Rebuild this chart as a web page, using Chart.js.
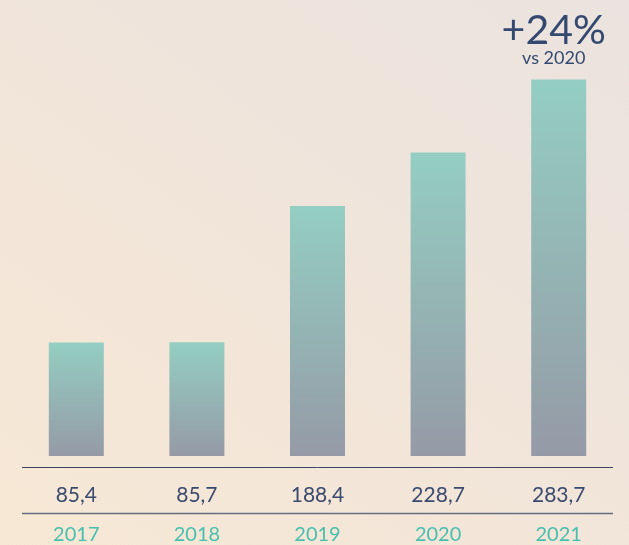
<!DOCTYPE html>
<html>
<head>
<meta charset="utf-8">
<script src="https://cdn.jsdelivr.net/npm/chart.js@4.4.1/dist/chart.umd.min.js"></script>
<style>
  html, body { margin: 0; padding: 0; overflow: hidden; }
  body {
    width: 629px; height: 545px;
    background: linear-gradient(35deg, #f7e8d5 0%, #f1e5da 50%, #ebe3df 100%);
  }
  #wrap { position: relative; width: 629px; height: 545px; }
</style>
</head>
<body>
<div id="wrap"><canvas id="chart"></canvas></div>
<script>
// Yearly totals
const years = ['2017', '2018', '2019', '2020', '2021'];
const totals = [85.4, 85.7, 188.4, 228.7, 283.7];

const fmt = v => v.toFixed(1).replace('.', ',');
const growth = Math.round((totals[totals.length - 1] / totals[totals.length - 2] - 1) * 100);

const NAVY = '#3a4a6e';
const TEAL = '#48bfae';

// Vertical teal-to-grey fill for each bar
function barFill(ctx) {
  const chart = ctx.chart;
  const y = chart.scales.y;
  if (!chart.chartArea || !y || ctx.dataIndex === undefined) return '#93c6be';
  const top = y.getPixelForValue(totals[ctx.dataIndex]);
  const bottom = y.getPixelForValue(0);
  const g = chart.ctx.createLinearGradient(0, top, 0, bottom);
  g.addColorStop(0, '#94cec2');
  g.addColorStop(1, '#959aa6');
  return g;
}

// Rules above and below the value row
const rules = {
  id: 'rules',
  afterDraw(chart) {
    const c = chart.ctx;
    const { left, right } = chart.chartArea;
    const x = chart.scales.x, x2 = chart.scales.x2;
    c.save();
    c.strokeStyle = '#3b4461';
    c.lineWidth = 1;
    c.beginPath();
    c.moveTo(left + 6, Math.round(x.top) + 0.5);
    c.lineTo(right - 6, Math.round(x.top) + 0.5);
    c.stroke();
    c.strokeStyle = '#646c80';
    c.lineWidth = 1.5;
    c.beginPath();
    c.moveTo(left + 6, x2.top + 0.5);
    c.lineTo(right - 6, x2.top + 0.5);
    c.stroke();
    c.restore();
  }
};

// Growth callout over the last bar
const callout = {
  id: 'callout',
  afterDatasetsDraw(chart) {
    const meta = chart.getDatasetMeta(0);
    const bar = meta.data[meta.data.length - 1];
    if (!bar) return;
    const c = chart.ctx;
    c.save();
    c.fillStyle = '#34496f';
    c.textAlign = 'center';
    c.textBaseline = 'alphabetic';
    c.font = '41px Lato';
    c.fillText('+' + growth + '%', bar.x - 5, bar.y - 35);
    c.font = '18px Lato';
    c.fillText('vs 2020', bar.x - 5, bar.y - 15);
    c.restore();
  }
};

new Chart(document.getElementById('chart'), {
  type: 'bar',
  data: {
    labels: years,
    datasets: [{
      data: totals,
      backgroundColor: barFill,
      borderWidth: 0,
      barPercentage: 0.456,
      categoryPercentage: 1
    }]
  },
  options: {
    responsive: true,
    maintainAspectRatio: false,
    animation: false,
    events: [],
    layout: { padding: { left: 16, right: 10, top: 0, bottom: 0 } },
    plugins: { legend: { display: false }, tooltip: { enabled: false } },
    scales: {
      y: {
        display: false,
        min: -8.3,
        max: 343.5
      },
      x: {
        position: 'bottom',
        weight: 0,
        offset: true,
        grid: { display: false, drawTicks: false },
        border: { display: false },
        ticks: {
          padding: 16,
          color: NAVY,
          font: { family: 'Lato', size: 21 },
          callback: (v, i) => fmt(totals[i])
        },
        afterFit: s => { s.height = 46; }
      },
      x2: {
        type: 'category',
        labels: years,
        position: 'bottom',
        weight: 1,
        offset: true,
        grid: { display: false, drawTicks: false },
        border: { display: false },
        ticks: {
          padding: 9.5,
          color: TEAL,
          font: { family: 'Lato', size: 20 }
        },
        afterFit: s => { s.height = 32; }
      }
    }
  },
  plugins: [rules, callout]
});
</script>
</body>
</html>
